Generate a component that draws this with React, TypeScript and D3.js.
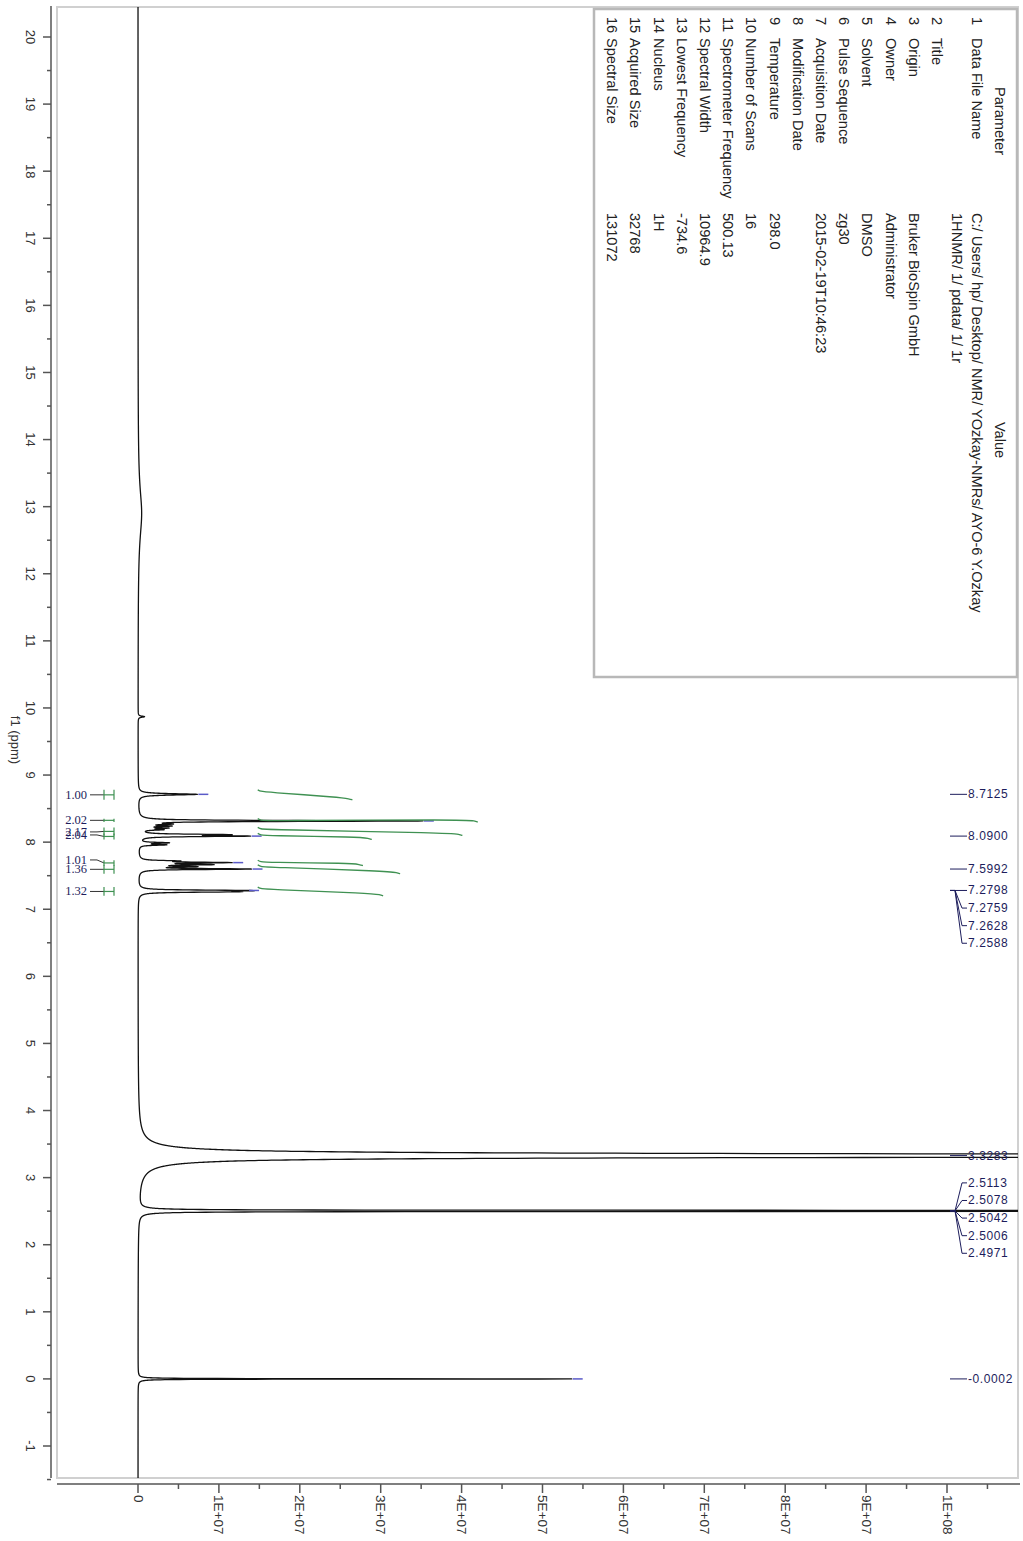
import React from 'react';
import * as d3 from 'd3';

// ---------- data ----------
const ppmTicks = [20, 19, 18, 17, 16, 15, 14, 13, 12, 11, 10, 9, 8, 7, 6, 5, 4, 3, 2, 1, 0, -1];
const intensityTicks = [0, 1e7, 2e7, 3e7, 4e7, 5e7, 6e7, 7e7, 8e7, 9e7, 1e8];
const intensityTickLabels = ['0', '1E+07', '2E+07', '3E+07', '4E+07', '5E+07', '6E+07', '7E+07', '8E+07', '9E+07', '1E+08'];

// spectrum peaks (ppm, height in 1E6 units, half width in ppm)
const peakPpm = [12.9, 9.87, 8.7125, 8.316, 8.27, 8.24, 8.21, 8.185, 8.112, 8.09, 7.99, 7.96, 7.72, 7.695, 7.665, 7.635, 7.5992, 7.2798, 7.2759, 7.2628, 7.2588, 3.3283, 2.5113, 2.5078, 2.5042, 2.5006, 2.4971, -0.0002];
const peakHeight = [0.45, 0.8, 7.3, 35, 3.0, 3.3, 3.0, 2.5, 10, 12.6, 3.5, 3.2, 4.0, 10.5, 8.0, 6.0, 13.5, 7.0, 6.0, 6.0, 5.0, 800, 80, 160, 250, 160, 80, 53.6];
const peakWidth = [0.45, 0.01, 0.012, 0.008, 0.008, 0.008, 0.008, 0.008, 0.008, 0.008, 0.008, 0.008, 0.008, 0.008, 0.008, 0.008, 0.008, 0.008, 0.008, 0.008, 0.008, 0.01, 0.002, 0.002, 0.002, 0.002, 0.002, 0.003];

// peak picking marks at tips
const markedPeaks = [8.7125, 8.316, 8.09, 7.695, 7.5992, 7.2798, -0.0002];

// peak labels (right side), grouped
const peakLabelGroups: { ppm: number; labels: string[] }[] = [
  { ppm: 8.7125, labels: ['8.7125'] },
  { ppm: 8.09, labels: ['8.0900'] },
  { ppm: 7.5992, labels: ['7.5992'] },
  { ppm: 7.2798, labels: ['7.2798', '7.2759', '7.2628', '7.2588'] },
  { ppm: 3.3283, labels: ['3.3283'] },
  { ppm: 2.5042, labels: ['2.5113', '2.5078', '2.5042', '2.5006', '2.4971'] },
  { ppm: -0.0002, labels: ['-0.0002'] },
];

// integrals
const integralLabels = ['1.00', '2.02', '2.17', '2.04', '1.01', '1.36', '1.32'];
const integralFrom = [8.78, 8.35, 8.22, 8.13, 7.73, 7.66, 7.33];
const integralTo = [8.63, 8.30, 8.10, 8.04, 7.65, 7.53, 7.20];
const integralCurve = [11.7, 27.2, 25.3, 14.1, 13.0, 17.6, 15.5]; // curve length, 1E6 units

// parameter table
const paramNames = ['Data File Name', 'Title', 'Origin', 'Owner', 'Solvent', 'Pulse Sequence', 'Acquisition Date', 'Modification Date', 'Temperature', 'Number of Scans', 'Spectrometer Frequency', 'Spectral Width', 'Lowest Frequency', 'Nucleus', 'Acquired Size', 'Spectral Size'];
const paramValues = [
  ['C:/ Users/ hp/ Desktop/ NMR/ YOzkay-NMRs/ AYO-6 Y.Ozkay', '1HNMR/ 1/ pdata/ 1/ 1r'],
  [''], ['Bruker BioSpin GmbH'], ['Administrator'], ['DMSO'], ['zg30'], ['2015-02-19T10:46:23'], [''],
  ['298.0'], ['16'], ['500.13'], ['10964.9'], ['-734.6'], ['1H'], ['32768'], ['131072'],
];

// ---------- component ----------
export default function App() {
  const y = d3.scaleLinear().domain([20, -1]).range([37, 1446]);
  const x = d3.scaleLinear().domain([0, 1e8]).range([138, 947]);

  const plot = { left: 57, top: 7, right: 1018, bottom: 1478 };
  const axisX = 51;
  const axisY = 1484;

  const intensity = (p: number) => {
    let s = 0;
    for (let i = 0; i < peakPpm.length; i++) {
      const d = p - peakPpm[i];
      const w = peakWidth[i];
      s += (peakHeight[i] * w * w) / (d * d + w * w);
    }
    return s * 1e6;
  };

  const samples: number[] = [];
  const pTop = y.invert(plot.top - 2);
  const pBot = y.invert(plot.bottom + 2);
  for (let p = pTop; p >= pBot; p -= 0.0012) samples.push(p);
  peakPpm.forEach((p) => samples.push(p));
  samples.sort((a, b) => b - a);

  const line = d3
    .line<number>()
    .x((p) => Math.min(x(intensity(p)), 3000))
    .y((p) => y(p));
  const tracePath = line(samples) || '';

  const minorPpm = d3.range(19.5, -1.6, -1);
  const minorInt = d3.range(5e6, 1.1e8, 1e7);

  const tickFont = "'Liberation Sans', Arial, sans-serif";
  const navy = '#1d1d5c';
  const green = '#3f9152';

  const intLine = d3.line<[number, number]>().curve(d3.curveBasis);
  const intStart = 1.48e7;

  // layout of labels
  const labelX = 968;
  const labelStep = 17.6;
  const groupStartOffset = [0, 0, 0, 0, 0, -28, 0];
  const integralLabelShift = [0, 0, 0.5, -1.5, -3, 0, 0];
  const tableFont = 14.6;

  return (
    <svg width={1023} height={1541} style={{ position: 'absolute', left: 0, top: 0, background: '#fff' }}>
      <rect x={0} y={0} width={1023} height={1541} fill="#fff" />
      <defs>
        <clipPath id="plotClip">
          <rect x={plot.left} y={plot.top} width={plot.right - plot.left} height={plot.bottom - plot.top} />
        </clipPath>
      </defs>

      {/* frame */}
      <rect x={plot.left} y={plot.top} width={plot.right - plot.left} height={plot.bottom - plot.top} fill="none" stroke="#d0d0d0" strokeWidth={2} />

      {/* left axis */}
      <line x1={axisX} x2={axisX} y1={6} y2={plot.bottom} stroke="#555" strokeWidth={1.5} />
      {ppmTicks.map((t) => (
        <g key={'pt' + t}>
          <line x1={axisX - 8} x2={axisX} y1={y(t)} y2={y(t)} stroke="#555" strokeWidth={1.5} />
          <text transform={`translate(30,${y(t)}) rotate(90)`} textAnchor="middle" dominantBaseline="central" fontFamily={tickFont} fontSize={13} fill="#333">
            {t}
          </text>
        </g>
      ))}
      {minorPpm.map((t) => (
        <line key={'pm' + t} x1={axisX - 4} x2={axisX} y1={y(t)} y2={y(t)} stroke="#555" strokeWidth={1.5} />
      ))}
      <text transform={`translate(15,740) rotate(90)`} textAnchor="middle" dominantBaseline="central" fontFamily={tickFont} fontSize={13} fill="#333">
        f1 (ppm)
      </text>

      {/* bottom axis */}
      <line x1={plot.left} x2={1020} y1={axisY} y2={axisY} stroke="#555" strokeWidth={1.5} />
      {intensityTicks.map((t, i) => (
        <g key={'it' + t}>
          <line x1={x(t)} x2={x(t)} y1={axisY} y2={axisY + 9} stroke="#555" strokeWidth={1.5} />
          <text transform={`translate(${x(t)},1495) rotate(90)`} textAnchor="start" dominantBaseline="central" fontFamily={tickFont} fontSize={13.5} fill="#333">
            {intensityTickLabels[i]}
          </text>
        </g>
      ))}
      {minorInt.map((t) => (
        <line key={'im' + t} x1={x(t)} x2={x(t)} y1={axisY} y2={axisY + 5} stroke="#555" strokeWidth={1.5} />
      ))}

      {/* spectrum */}
      <g clipPath="url(#plotClip)">
        <path d={tracePath} fill="none" stroke="#111" strokeWidth={1.3} strokeLinejoin="round" />
        {markedPeaks.map((p) => (
          <line key={'mk' + p} x1={x(intensity(p)) + 1} x2={x(intensity(p)) + 11} y1={y(p)} y2={y(p)} stroke="#5a5ac8" strokeWidth={1.5} />
        ))}
        {integralLabels.map((lab, i) => {
          const x0 = x(intStart);
          const x1 = x(intStart + integralCurve[i] * 1e6);
          const y0 = y(integralFrom[i]);
          const y1 = y(integralTo[i]);
          const pts: [number, number][] = [
            [x0, y0],
            [x0 + 3, y0 + 1.5],
            [x0 + 8, y0 + 2.2],
            [x1 - 12, y1 - 2.5],
            [x1 - 3, y1 - 1],
            [x1, y1],
          ];
          return <path key={'ic' + i} d={intLine(pts) || ''} fill="none" stroke={green} strokeWidth={1.3} />;
        })}
      </g>

      {/* integral labels */}
      {integralLabels.map((lab, i) => {
        const yTop = y(integralFrom[i]);
        const yBot = y(integralTo[i]);
        const yc = (yTop + yBot) / 2;
        const ly = yc + integralLabelShift[i];
        return (
          <g key={'il' + i}>
            <text x={87} y={ly} textAnchor="end" dominantBaseline="central" fontFamily="'Liberation Serif', 'Times New Roman', serif" fontSize={12.5} fill={navy}>
              {lab}
            </text>
            <path d={`M90,${ly} L97,${ly} L104,${yc}`} fill="none" stroke="#333" strokeWidth={1} />
            <line x1={104} x2={104} y1={yTop} y2={yBot} stroke={green} strokeWidth={1.2} />
            <line x1={114} x2={114} y1={yTop} y2={yBot} stroke={green} strokeWidth={1.2} />
            <line x1={104} x2={114} y1={yc} y2={yc} stroke={green} strokeWidth={1.2} />
          </g>
        );
      })}

      {/* peak labels */}
      {peakLabelGroups.map((g, gi) => {
        const py = y(g.ppm);
        return (
          <g key={'pl' + gi}>
            {g.labels.map((lab, li) => {
              const ly = py + groupStartOffset[gi] + li * labelStep;
              const multi = g.labels.length > 1;
              const d = multi ? `M950,${py} L955,${py} L962,${ly} L967,${ly}` : `M950,${py} L967,${py}`;
              return (
                <g key={lab}>
                  <path d={d} fill="none" stroke={navy} strokeWidth={1} />
                  <text x={labelX} y={ly} dominantBaseline="central" fontFamily={tickFont} fontSize={12} letterSpacing={0.6} fill={navy}>
                    {lab}
                  </text>
                </g>
              );
            })}
          </g>
        );
      })}

      {/* parameter table */}
      <rect x={594} y={9} width={423} height={668} fill="#fff" stroke="#b8b8b8" strokeWidth={2.5} />
      <text transform={`translate(1000,121) rotate(90)`} textAnchor="middle" dominantBaseline="central" fontFamily={tickFont} fontSize={tableFont} fill="#222">
        Parameter
      </text>
      <text transform={`translate(1000,440) rotate(90)`} textAnchor="middle" dominantBaseline="central" fontFamily={tickFont} fontSize={tableFont} fill="#222">
        Value
      </text>
      {paramNames.map((name, i) => {
        const rx = i === 0 ? 977 : 937 - (i - 1) * 23.2;
        return (
          <g key={'row' + i}>
            <text transform={`translate(${rx},17) rotate(90)`} dominantBaseline="central" fontFamily={tickFont} fontSize={tableFont} fill="#222">
              {i + 1}
            </text>
            <text transform={`translate(${rx},38) rotate(90)`} dominantBaseline="central" fontFamily={tickFont} fontSize={tableFont} fill="#222">
              {name}
            </text>
            {paramValues[i].map((v, j) => (
              <text key={j} transform={`translate(${rx - j * 20},213) rotate(90)`} dominantBaseline="central" fontFamily={tickFont} fontSize={tableFont} fill="#222">
                {v}
              </text>
            ))}
          </g>
        );
      })}
    </svg>
  );
}
